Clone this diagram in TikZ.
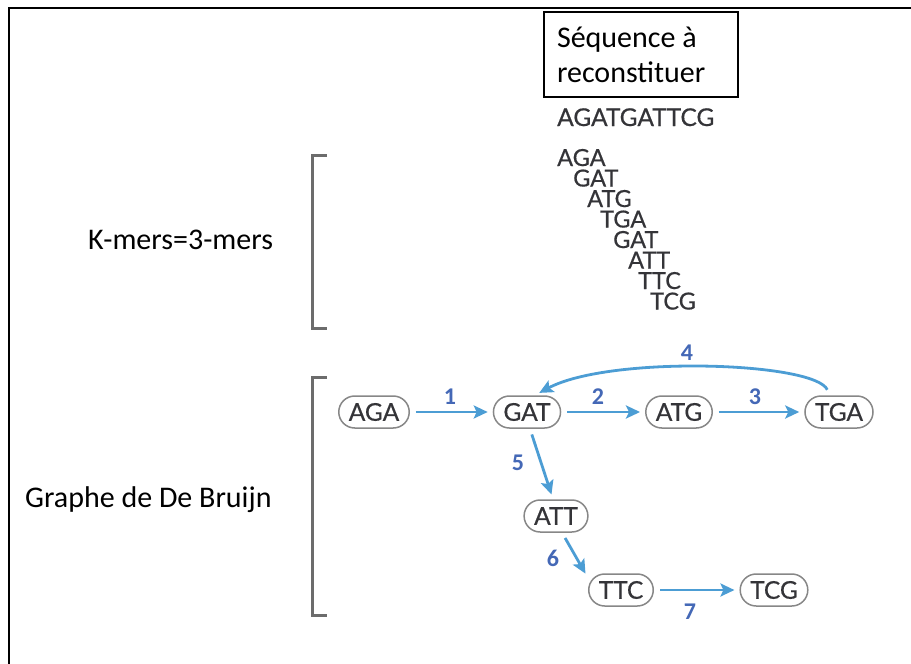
\documentclass[tikz,border=0pt]{standalone}
\usepackage{fontspec}
\setmainfont{Carlito}
\newfontfamily\seqFont[FakeBold=0.5]{Lato}
\usetikzlibrary{arrows.meta}
\definecolor{bleuFleche}{RGB}{76,157,212}
\definecolor{bleuNum}{RGB}{68,104,182}
\definecolor{grisCrochet}{RGB}{108,108,108}
\definecolor{grisNoeud}{RGB}{135,135,135}
\definecolor{grisTexte}{RGB}{52,52,56}
\newcommand{\crochetX}{312}
\newcommand{\crochetBras}{15}
\newcommand{\kmerHaut}{166}
\tikzset{
	titre/.style={font=\fontsize{30}{35}\selectfont, inner sep=0pt},
	boite/.style={draw, line width=1.4pt, align=flush left, text width=168pt, inner xsep=13pt, minimum height=85pt, font=\fontsize{30}{35}\selectfont},
	seq/.style={font=\seqFont\fontsize{24.5}{24.5}\selectfont, text=grisTexte, inner sep=0pt},
	kmer/.style={seq, font=\seqFont\fontsize{23.5}{23.5}\selectfont, text height=16pt, text depth=0pt},
	noeud/.style={draw=grisNoeud, line width=1.5pt, rounded corners=16pt, minimum height=32pt, inner ysep=0pt, inner xsep=10pt, fill=white, font=\seqFont\fontsize{24.5}{24.5}\selectfont, text=grisTexte},
	fleche/.style={draw=bleuFleche, line width=2.8pt, -{Stealth[length=14pt,width=13pt,inset=3pt]}, shorten >=5pt, shorten <=6pt},
	num/.style={text=bleuNum, font=\bfseries\fontsize{24}{24}\selectfont, inner sep=0pt},
	crochet/.style={draw=grisCrochet, line width=3pt}
}

\begin{document}
\begin{tikzpicture}[x=1pt,y=-1pt]
	\useasboundingbox (0,0) rectangle (911,664);
	% cadre
	\draw[line width=2pt] (9,664)--(9,8)--(911,8);
	% séquence à reconstituer
	\node[boite] (titre) at (641,54.5) {Séquence à\\reconstituer};
	\node[seq, anchor=base west] (sequence) at (557,126) {AGATGATTCG};
	% les k-mers décalés
	\node[kmer, anchor=base west] (km1) at (557,\kmerHaut) {AGA};
	\node[kmer, anchor=base west] (km2) at (573,\kmerHaut+20.5) {GAT};
	\node[kmer, anchor=base west] (km3) at (587,\kmerHaut+41) {ATG};
	\node[kmer, anchor=base west] (km4) at (600,\kmerHaut+61.5) {TGA};
	\node[kmer, anchor=base west] (km5) at (613,\kmerHaut+82) {GAT};
	\node[kmer, anchor=base west] (km6) at (628,\kmerHaut+102.5) {ATT};
	\node[kmer, anchor=base west] (km7) at (638,\kmerHaut+123) {TTC};
	\node[kmer, anchor=base west] (km8) at (650,\kmerHaut+143.5) {TCG};
	% crochets et légendes
	\draw[crochet] (\crochetX+\crochetBras,155)--(\crochetX,155)--(\crochetX,328)--(\crochetX+\crochetBras,328)
	(\crochetX+\crochetBras,377)--(\crochetX,377)--(\crochetX,615)--(\crochetX+\crochetBras,615);
	\node[titre, anchor=west] (kmers) at (88,240) {K-mers=3-mers};
	\node[titre, anchor=west] (debruijn) at (25,500) {Graphe de De Bruijn};
	% graphe de De Bruijn
	\node[noeud] (aga) at (374,412) {AGA};
	\node[noeud] (gat) at (527,412) {GAT};
	\node[noeud] (atg) at (679,412) {ATG};
	\node[noeud] (tga) at (839,412) {TGA};
	\node[noeud] (att) at (556,516) {ATT};
	\node[noeud] (ttc) at (621,590) {TTC};
	\node[noeud] (tcg) at (774,590) {TCG};
	\draw[fleche] (aga)--(gat);
	\draw[fleche] (gat)--(atg);
	\draw[fleche] (atg)--(tga);
	\draw[fleche] (tga.119) .. controls (815,362) and (610,355) .. (gat.65);
	\draw[fleche] (gat.-80)--(att.100);
	\draw[fleche] (att.-70)--(ttc.160);
	\draw[fleche] (ttc)--(tcg);
	% numéros des arêtes
	\node[num] (n1) at (450,397) {1};
	\node[num] (n2) at (598,397) {2};
	\node[num] (n3) at (755,397) {3};
	\node[num] (n4) at (687,353) {4};
	\node[num] (n5) at (518,463) {5};
	\node[num] (n6) at (553,558) {6};
	\node[num] (n7) at (690,612) {7};
\end{tikzpicture}
\end{document}
